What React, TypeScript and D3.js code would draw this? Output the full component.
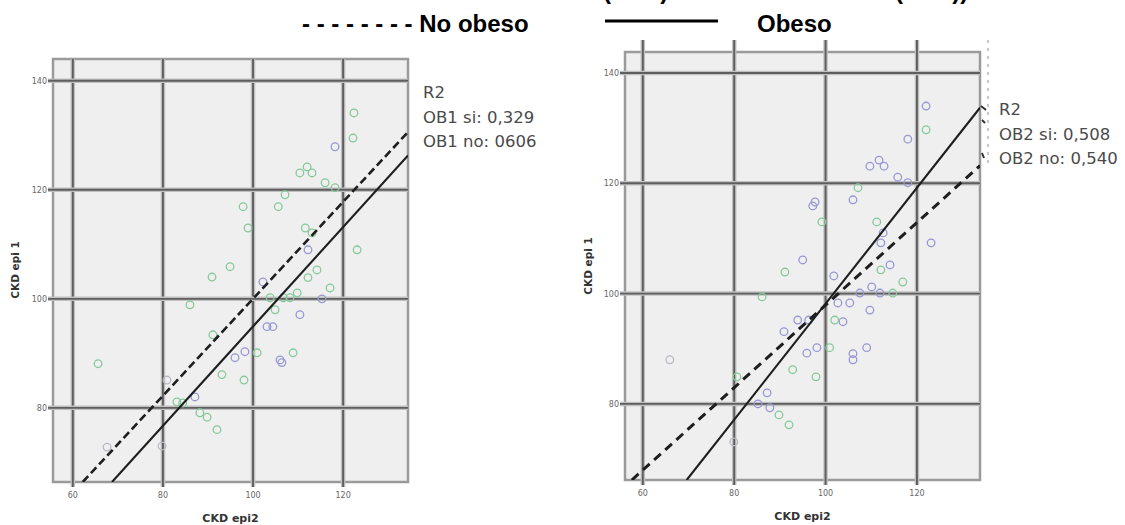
import * as d3 from 'd3';

// ticks shared by both panels
const xTicks = [60, 80, 100, 120];
const yTicks = [80, 100, 120, 140];

// [CKD epi2, CKD epi 1, group] ; g = green, b = blue
const panel1Points: [number, number, string][] = [
  [65.6, 88.1, 'g'], [67.6, 72.8, 'l'], [79.8, 73.0, 'l'], [80.9, 85.1, 'l'],
  [86.0, 98.9, 'g'], [91.1, 93.4, 'g'], [93.1, 86.1, 'g'], [98.0, 85.1, 'g'],
  [96.0, 89.2, 'b'], [98.2, 90.3, 'b'], [100.9, 90.1, 'g'], [87.1, 82.0, 'b'],
  [83.1, 81.1, 'g'], [84.4, 80.9, 'g'], [88.2, 79.1, 'g'], [89.8, 78.3, 'g'],
  [92.0, 76.0, 'g'], [103.1, 94.9, 'b'], [104.4, 94.9, 'b'], [97.8, 116.9, 'g'],
  [98.9, 113.0, 'g'], [94.9, 105.9, 'g'], [90.9, 104.0, 'g'], [105.6, 116.9, 'g'],
  [102.2, 103.1, 'b'], [122.4, 134.1, 'g'], [122.2, 129.5, 'g'], [118.2, 127.9, 'b'],
  [110.4, 123.1, 'g'], [112.0, 124.2, 'g'], [113.1, 123.1, 'g'], [116.0, 121.3, 'g'],
  [118.2, 120.4, 'g'], [107.1, 119.1, 'g'], [111.6, 113.0, 'g'], [113.1, 112.1, 'g'],
  [112.2, 109.0, 'b'], [123.1, 109.0, 'g'], [114.2, 105.3, 'g'], [112.2, 103.9, 'g'],
  [117.1, 102.0, 'g'], [109.8, 101.1, 'g'], [115.3, 100.0, 'b'], [110.4, 97.1, 'b'],
  [108.9, 90.1, 'g'], [106.4, 88.3, 'b'], [106.7, 100.2, 'g'], [108.2, 100.2, 'g'],
  [103.8, 100.2, 'g'], [106.0, 88.8, 'b'], [104.9, 98.0, 'g'],
];

const panel2Points: [number, number, string][] = [
  [97.7, 116.6, 'b'], [97.2, 115.9, 'b'], [99.2, 113.0, 'g'], [95.0, 106.1, 'b'],
  [91.1, 103.9, 'g'], [101.8, 103.2, 'b'], [86.1, 99.4, 'g'], [122.0, 134.0, 'b'],
  [122.0, 129.7, 'g'], [118.0, 128.0, 'b'], [109.7, 123.1, 'b'], [111.7, 124.2, 'b'],
  [112.8, 123.1, 'b'], [115.8, 121.1, 'b'], [118.0, 120.1, 'b'], [107.1, 119.2, 'g'],
  [106.0, 117.0, 'b'], [111.2, 113.0, 'g'], [112.6, 111.0, 'b'], [112.1, 109.2, 'b'],
  [123.1, 109.2, 'b'], [114.1, 105.2, 'b'], [112.1, 104.3, 'g'], [116.9, 102.1, 'g'],
  [110.1, 101.2, 'b'], [107.5, 100.1, 'b'], [111.9, 100.1, 'b'], [114.7, 100.1, 'g'],
  [109.7, 97.0, 'b'], [103.8, 94.9, 'b'], [109.0, 90.2, 'b'], [106.0, 89.1, 'b'],
  [106.0, 88.0, 'b'], [102.7, 98.3, 'b'], [93.9, 95.2, 'b'], [96.3, 95.2, 'b'],
  [90.9, 93.1, 'b'], [102.0, 95.2, 'g'], [98.1, 90.2, 'b'], [95.9, 89.2, 'b'],
  [100.9, 90.2, 'g'], [92.8, 86.2, 'g'], [97.9, 84.9, 'g'], [65.9, 88.0, 'l'],
  [80.6, 84.9, 'g'], [87.2, 82.0, 'b'], [85.2, 80.0, 'b'], [87.8, 79.3, 'b'],
  [89.8, 78.0, 'g'], [92.0, 76.2, 'g'], [79.9, 73.1, 'l'], [105.3, 98.3, 'b'],
];

// fit lines: [x1, y1, x2, y2] in data units
const panel1NoObeso = [62.2, 66.4, 134.4, 130.6];
const panel1Obeso = [68.7, 66.4, 134.4, 126.3];
const panel2NoObeso = [57.6, 66.2, 133.8, 123.2];
const panel2Obeso = [69.6, 66.2, 133.8, 133.7];

const panel1Notes = ['R2', 'OB1 si: 0,329', 'OB1 no: 0606'];
const panel2Notes = ['R2', 'OB2 si: 0,508', 'OB2 no: 0,540'];

const colors: Record<string, string> = { g: '#86c99c', b: '#9797d6', l: '#b9b9c4' };

type PanelProps = {
  id: string;
  frame: { x0: number; x1: number; y0: number; y1: number };
  xDomain: [number, number];
  yDomain: [number, number];
  points: [number, number, string][];
  noObeso: number[];
  obeso: number[];
  dash: string;
  dashWidth: number;
  notes: string[];
  noteX: number;
  noteY: number;
  yTitleX: number;
  yTitleY: number;
  xTitle: string;
  xTitleY: number;
  topTicks?: boolean;
};

const Panel = (p: PanelProps) => {
  const { x0, x1, y0, y1 } = p.frame;
  const x = d3.scaleLinear().domain(p.xDomain).range([x0, x1]);
  const y = d3.scaleLinear().domain(p.yDomain).range([y1, y0]);
  const line = d3.line<number[]>().x(d => x(d[0])).y(d => y(d[1]));
  const seg = (l: number[]) => line([[l[0], l[1]], [l[2], l[3]]]) || '';
  return (
    <g>
      <defs>
        <clipPath id={p.id}>
          <rect x={x0} y={y0} width={x1 - x0} height={y1 - y0} />
        </clipPath>
      </defs>
      <rect x={x0} y={y0} width={x1 - x0} height={y1 - y0} fill="#efefef" stroke="#9a9a9a" strokeWidth={2.5} />
      {/* soft grid */}
      {xTicks.map(t => (
        <g key={'gx' + t}>
          <line x1={x(t)} x2={x(t)} y1={p.topTicks ? y0 - 12 : y0} y2={y1 + 5} stroke="#c0c0c0" strokeWidth={4.5} />
          <line x1={x(t)} x2={x(t)} y1={p.topTicks ? y0 - 12 : y0} y2={y1 + 5} stroke="#5e5e5e" strokeWidth={1.9} />
        </g>
      ))}
      {yTicks.map(t => (
        <g key={'gy' + t}>
          <line x1={x0 - 5} x2={x1} y1={y(t)} y2={y(t)} stroke="#c0c0c0" strokeWidth={4.5} />
          <line x1={x0 - 5} x2={x1} y1={y(t)} y2={y(t)} stroke="#5e5e5e" strokeWidth={1.9} />
        </g>
      ))}
      <g clipPath={`url(#${p.id})`}>
        {p.points.map((d, i) => (
          <circle key={i} cx={x(d[0])} cy={y(d[1])} r={3.8} fill="none" stroke={colors[d[2]]} strokeWidth={1.3} />
        ))}
        <path d={seg(p.noObeso)} stroke="#1e1e1e" strokeWidth={p.dashWidth} strokeDasharray={p.dash} fill="none" />
        <path d={seg(p.obeso)} stroke="#1e1e1e" strokeWidth={2.1} fill="none" />
      </g>
      {yTicks.map(t => (
        <text key={'ty' + t} x={x0 - 6} y={y(t) + 3} fontSize={8} textAnchor="end" fill="#666" fontFamily="DejaVu Sans">
          {t}
        </text>
      ))}
      {xTicks.map(t => (
        <text key={'tx' + t} x={x(t)} y={y1 + 16} fontSize={8} textAnchor="middle" fill="#666" fontFamily="DejaVu Sans">
          {t}
        </text>
      ))}
      <text
        transform={`translate(${p.yTitleX},${p.yTitleY}) rotate(-90)`}
        textAnchor="middle"
        fontSize={10.5}
        fontWeight="bold"
        fill="#333"
        fontFamily="DejaVu Sans"
      >
        CKD epi 1
      </text>
      <text x={(x0 + x1) / 2} y={p.xTitleY} textAnchor="middle" fontSize={11} fill="#333" fontWeight={600} fontFamily="DejaVu Sans">
        {p.xTitle}
      </text>
      {p.notes.map((n, i) => (
        <text key={n} x={p.noteX} y={p.noteY + i * 24.5} fontSize={16.5} fill="#4a4a4a" fontFamily="DejaVu Sans">
          {n}
        </text>
      ))}
    </g>
  );
};

export default function App() {
  return (
    <svg width={1125} height={525} style={{ position: 'absolute', left: 0, top: 0, background: '#fff' }}>
      {/* title fragments, cut off by the top edge as in the source */}
      <text x={603} y={-1} fontSize={24} fontWeight="bold" fontFamily="Liberation Sans, Arial">(OB1)</text>
      <text x={895} y={-1} fontSize={24} fontWeight="bold" fontFamily="Liberation Sans, Arial">(OB2))</text>
      {/* legend */}
      <text x={302} y={32} fontSize={24} fontWeight="bold" fontFamily="Liberation Sans, Arial" fill="#000">
        - - - - - - - - No obeso
      </text>
      <line x1={605} x2={718} y1={21} y2={21} stroke="#000" strokeWidth={3} />
      <text x={757} y={32} fontSize={24} fontWeight="bold" fontFamily="Liberation Sans, Arial" fill="#000">
        Obeso
      </text>

      <Panel
        id="c1"
        frame={{ x0: 53, x1: 408, y0: 59, y1: 482 }}
        xDomain={[55.6, 134.4]}
        yDomain={[66.4, 144]}
        points={panel1Points}
        noObeso={panel1NoObeso}
        obeso={panel1Obeso}
        dash="8 4"
        dashWidth={2.6}
        notes={panel1Notes}
        noteX={423}
        noteY={98}
        yTitleX={19}
        yTitleY={270}
        xTitle="CKD epi2"
        xTitleY={522}
      />
      <Panel
        id="c2"
        frame={{ x0: 625, x1: 980, y0: 52, y1: 480 }}
        xDomain={[56.1, 133.8]}
        yDomain={[66.2, 143.8]}
        points={panel2Points}
        noObeso={panel2NoObeso}
        obeso={panel2Obeso}
        dash="9 6"
        dashWidth={3}
        notes={panel2Notes}
        noteX={999}
        noteY={115}
        yTitleX={592}
        yTitleY={266}
        xTitle="CKD epi2"
        xTitleY={520}
        topTicks
      />
      {/* stray marks on right panel edge */}
      <line x1={988} x2={988} y1={40} y2={165} stroke="#b5b5b5" strokeWidth={1.5} strokeDasharray="3 5" />
      <path d="M981,106 L986,110 M982,120 L985,123 M982,153 L984,158" stroke="#333" strokeWidth={2} />
    </svg>
  );
}
